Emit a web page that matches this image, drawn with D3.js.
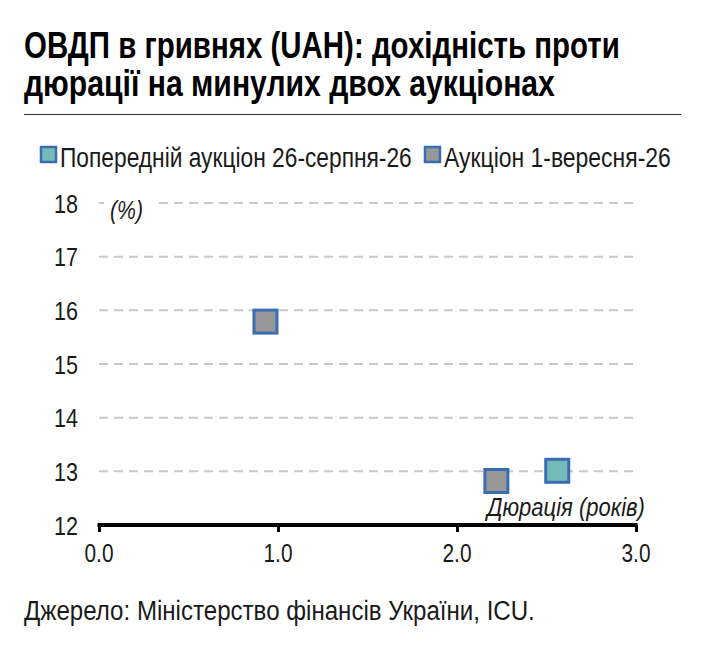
<!DOCTYPE html>
<html>
<head>
<meta charset="utf-8">
<script src="https://cdn.jsdelivr.net/npm/d3@7"></script>
<style>
  body { margin: 0; background: #fff; }
  text { font-family: "Liberation Sans", Arial, sans-serif; }
</style>
</head>
<body>
<div class="canvas"></div>
<script>
// data
const seriesNames = ['Попередній аукціон 26-серпня-26', 'Аукціон 1-вересня-26'];
const seriesColors = ['#74bbb7', '#979797'];
const prevDuration = [2.56];
const prevYield = [13.01];
const currDuration = [0.93, 2.22];
const currYield = [15.79, 12.82];
const yTicks = [12, 13, 14, 15, 16, 17, 18];
const xTicks = [0, 1, 2, 3];

const W = 704, H = 651;
const svg = d3.select('.canvas')
    .append('svg')
    .attr('width', W)
    .attr('height', H);

// condensed look: draw text at (0,0), then scale it sideways to the wanted width
const squeezed = (parent, px, py, width, anchor) => {
  const g = parent.append('g');
  const t = g.append('text').attr('x', 0).attr('y', 0);
  return {
    text: t,
    fit() {
      const k = width / t.node().getComputedTextLength();
      const left = anchor === 'end' ? px - width : px;
      g.attr('transform', `translate(${left},${py}) scale(${k},1)`);
      return t;
    }
  };
};

// title
const titleLines = [['ОВДП в гривнях (UAH): дохідність проти', 58, 596],
                    ['дюрації на минулих двох аукціонах', 96, 531]];
titleLines.forEach(([s, yy, w]) => {
  const sq = squeezed(svg, 24, yy, w);
  sq.text.attr('font-size', 37).attr('font-weight', 'bold').attr('fill', '#000').text(s);
  sq.fit();
});

svg.append('line')
    .attr('x1', 24).attr('x2', 681)
    .attr('y1', 114.5).attr('y2', 114.5)
    .attr('stroke', '#333').attr('stroke-width', 1);

// legend
const legendX = [40, 424];
const legendW = [352, 227];
seriesNames.forEach((name, i) => {
  svg.append('rect')
      .attr('x', legendX[i] + 1).attr('y', 147)
      .attr('width', 15).attr('height', 15)
      .attr('fill', seriesColors[i])
      .attr('stroke', '#3a6cb4').attr('stroke-width', 2.5);
  const sq = squeezed(svg, legendX[i] + 20, 167, legendW[i]);
  sq.text.attr('font-size', 28).attr('fill', '#1a1a1a').text(name);
  sq.fit();
});

// scales
const x = d3.scaleLinear().domain([0, 3]).range([99, 636]);
const y = d3.scaleLinear().domain([12, 18]).range([525, 203]);

// gridlines
svg.append('g').selectAll('line')
    .data(yTicks.filter(d => d > 12))
    .enter().append('line')
    .attr('x1', x(0)).attr('x2', x(3))
    .attr('y1', d => y(d)).attr('y2', d => y(d))
    .attr('stroke', '#c8c8c8').attr('stroke-width', 2)
    .attr('stroke-dasharray', '9,6');

// y labels
yTicks.forEach(d => {
  const sq = squeezed(svg, 78, y(d) + 9.5, 24, 'end');
  sq.text.attr('font-size', 26.5).attr('fill', '#1a1a1a').text(d);
  sq.fit();
});

// (%) label with white background
svg.append('rect')
    .attr('x', 104).attr('y', 192).attr('width', 50).attr('height', 34)
    .attr('fill', '#fff');
const pct = squeezed(svg, 110, 219, 33);
pct.text.attr('font-size', 25).attr('font-style', 'italic').attr('fill', '#1a1a1a').text('(%)');
pct.fit();

// x axis
const xAxis = d3.axisBottom(x)
    .tickValues(xTicks)
    .tickSize(7)
    .tickFormat('');
const xAxisGroup = svg.append('g')
    .attr('transform', `translate(0,${y(12)})`)
    .call(xAxis);
xAxisGroup.select('.domain')
    .attr('d', `M${x(0) - 1.5},0H${x(3) + 1.5}`)
    .attr('stroke', '#000').attr('stroke-width', 4);
xAxisGroup.selectAll('.tick line')
    .attr('stroke', '#000').attr('stroke-width', 3);

// x tick labels, centred under the ticks
xTicks.forEach(d => {
  const sq = squeezed(svg, x(d) - 14.5, 562, 29);
  sq.text.attr('font-size', 26.5).attr('fill', '#1a1a1a').text(d3.format('.1f')(d));
  sq.fit();
});

// x axis title
const xTitle = squeezed(svg, 645, 516, 158, 'end');
xTitle.text.attr('font-size', 25).attr('font-style', 'italic').attr('fill', '#1a1a1a').text('Дюрація (років)');
xTitle.fit();

// markers
const size = 23;
const drawMarkers = (xs, ys, color) => {
  svg.append('g').selectAll('rect')
      .data(xs.map((d, i) => ({dur: d, yld: ys[i]})))
      .enter().append('rect')
      .attr('x', d => x(d.dur) - size / 2)
      .attr('y', d => y(d.yld) - size / 2)
      .attr('width', size).attr('height', size)
      .attr('fill', color)
      .attr('stroke', '#3a6cb4').attr('stroke-width', 3);
};
drawMarkers(prevDuration, prevYield, seriesColors[0]);
drawMarkers(currDuration, currYield, seriesColors[1]);

// source
const src = squeezed(svg, 24, 620, 511);
src.text.attr('font-size', 28).attr('fill', '#1a1a1a').text('Джерело: Міністерство фінансів України, ICU.');
src.fit();
</script>
</body>
</html>
